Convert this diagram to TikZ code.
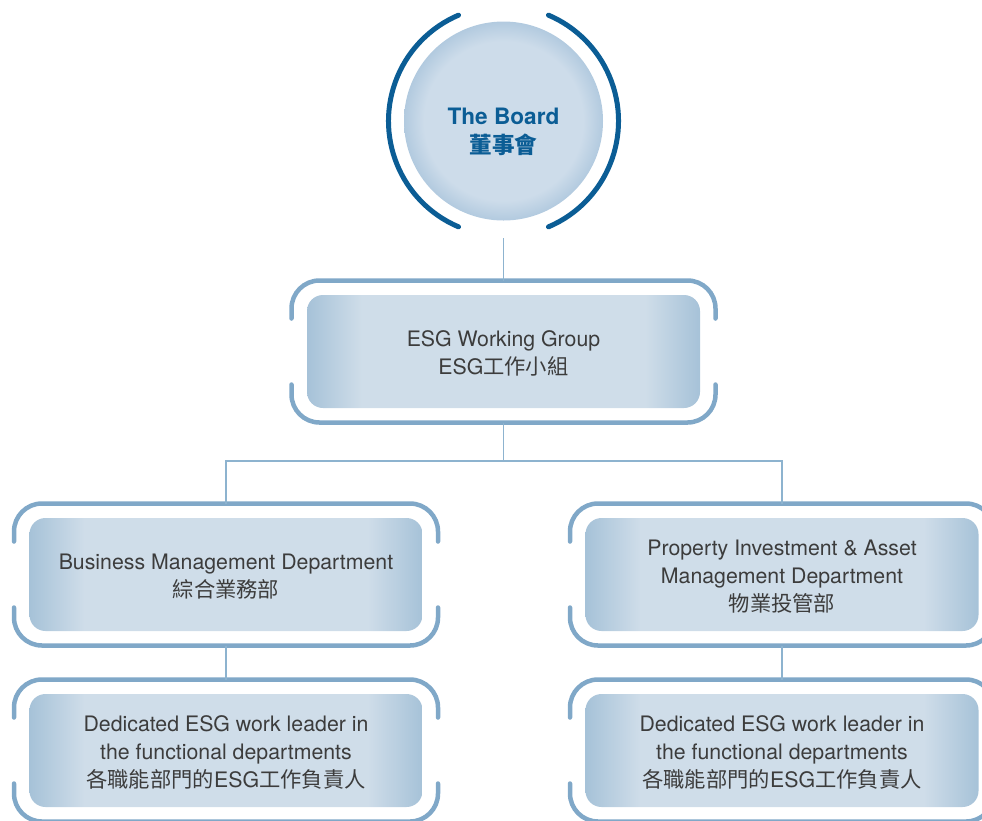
\documentclass[tikz,border=0pt]{standalone}
\usepackage{fontspec}
\setmainfont{TeX Gyre Heros}
\newfontfamily\cjk{Noto Sans CJK TC}
\definecolor{framecol}{RGB}{128,168,200}
\definecolor{linkcol}{RGB}{141,179,207}
\definecolor{boardblue}{RGB}{11,93,149}
\definecolor{boxlt}{RGB}{207,221,233}
\definecolor{boxdk}{RGB}{166,194,216}
\definecolor{circlt}{RGB}{205,220,234}
\definecolor{circdk}{RGB}{178,202,223}
\definecolor{txtcol}{RGB}{60,60,60}
\pgfdeclarehorizontalshading{boxsh}{100bp}{color(0bp)=(boxdk); color(25bp)=(boxdk); color(32bp)=(boxlt); color(68bp)=(boxlt); color(75bp)=(boxdk); color(100bp)=(boxdk)}
\pgfdeclareradialshading{circsh}{\pgfpoint{0bp}{0bp}}{color(0bp)=(circlt); color(20bp)=(circlt); color(25bp)=(circdk); color(50bp)=(circdk)}
\newcommand\bframe[2]{%
  \draw[frame] (#1-212,#2-33) -- (#1-212,#2-71) -- (#1+212,#2-71) -- (#1+212,#2-33);
  \draw[frame] (#1-212,#2+33) -- (#1-212,#2+71) -- (#1+212,#2+71) -- (#1+212,#2+33);}
\tikzset{
  frame/.style={draw=framecol, line width=4.5pt, rounded corners=28pt, line cap=round},
  link/.style={draw=linkcol, line width=1.5pt},
  boardarc/.style={draw=boardblue, line width=5pt, line cap=round},
  inbox/.style={shade, shading=boxsh, rounded corners=16pt, minimum width=393pt, minimum height=113pt, inner sep=0pt},
  intext/.style={align=center, text=txtcol, font=\fontsize{21.3}{27.8}\selectfont},
  boardnode/.style={circle, shade, shading=circsh, minimum size=199pt, inner sep=0pt},
}
\begin{document}
\begin{tikzpicture}[x=1pt,y=-1pt]
\useasboundingbox (0,0) rectangle (982,820);
\clip (0,0) rectangle (982,820);
% board
\node[boardnode] (board) at (503.5,121) {};
\node[text=boardblue, font=\fontsize{22.6}{29}\selectfont\bfseries, align=center] (boardlabel) at (503.5,131.5) {The Board\\{\cjk\bfseries 董事會}};
\draw[boardarc] ([shift={(113:115)}]board.center) arc[start angle=113, end angle=247, radius=115];
\draw[boardarc] ([shift={(67:115)}]board.center) arc[start angle=67, end angle=-67, radius=115];
% frames
\bframe{503.5}{351.5}
\bframe{226}{574.5}
\bframe{782}{574.5}
\bframe{226}{750.5}
\bframe{782}{750.5}
% boxes
\node[inbox] (esg) at (503.5,351.5) {};
\node[inbox] (bmd) at (226,574.5) {};
\node[inbox] (pia) at (782,574.5) {};
\node[inbox] (dl) at (226,750.5) {};
\node[inbox] (dr) at (782,750.5) {};
\node[intext] (esgtxt) at ([yshift=-1.5pt]esg.center) {ESG Working Group\\ESG{\cjk 工作小組}};
\node[intext] (bmdtxt) at ([yshift=-2pt]bmd.center) {Business Management Department\\{\cjk 綜合業務部}};
\node[intext] (piatxt) at ([yshift=-2pt]pia.center) {Property Investment \& Asset\\Management Department\\{\cjk 物業投管部}};
\node[intext] (dltxt) at ([yshift=-2pt]dl.center) {Dedicated ESG work leader in\\the functional departments\\{\cjk 各職能部門的}ESG{\cjk 工作負責人}};
\node[intext] (drtxt) at ([yshift=-2pt]dr.center) {Dedicated ESG work leader in\\the functional departments\\{\cjk 各職能部門的}ESG{\cjk 工作負責人}};
% connector endpoints on frames
\coordinate (boardB) at (503.5,238);
\coordinate (esgT) at (503.5,280.5);
\coordinate (esgB) at (503.5,422.5);
\coordinate (bus) at (503.5,461);
\coordinate (bmdT) at (226,503.5);
\coordinate (piaT) at (782,503.5);
\coordinate (bmdB) at (226,645.5);
\coordinate (piaB) at (782,645.5);
\coordinate (dlT) at (226,679.5);
\coordinate (drT) at (782,679.5);
\draw[link] (boardB) -- (esgT);
\draw[link] (esgB) -- (bus);
\draw[link] (bmdT) |- (bus) -| (piaT);
\draw[link] (bmdB) -- (dlT);
\draw[link] (piaB) -- (drT);
\end{tikzpicture}
\end{document}
